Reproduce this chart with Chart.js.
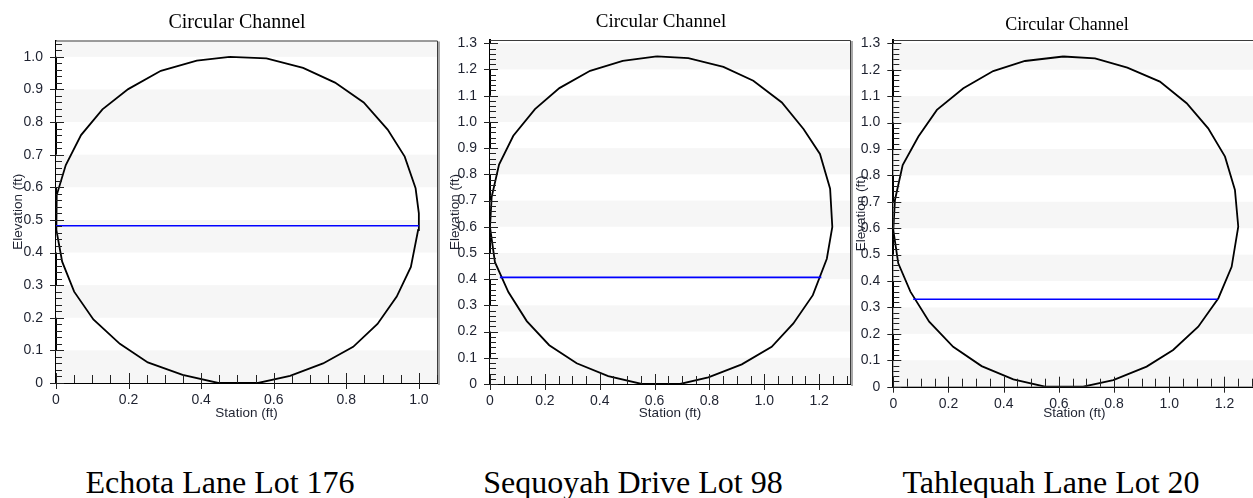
<!DOCTYPE html>
<html>
<head>
<meta charset="utf-8">
<script src="https://cdn.jsdelivr.net/npm/chart.js@4.4.1/dist/chart.umd.min.js"></script>
<style>
  body { margin: 0; background: #fff; overflow: hidden; width: 1253px; height: 498px; position: relative; }
  canvas { position: absolute; top: 0; }
  .caption { position: absolute; top: 464px; font-family: "Liberation Serif", serif; font-size: 32px; color: #000; transform: translateX(-50%); white-space: nowrap; }
</style>
</head>
<body>
<canvas id="echota" width="445" height="430" style="left:0px"></canvas>
<canvas id="sequoyah" width="408" height="430" style="left:445px"></canvas>
<canvas id="tahlequah" width="405" height="430" style="left:853px"></canvas>
<div class="caption" style="left:220px">Echota Lane Lot 176</div>
<div class="caption" style="left:633px">Sequoyah Drive Lot 98</div>
<div class="caption" style="left:1051px">Tahlequah Lane Lot 20</div>
<script>
// channel cross sections (station, elevation)
const echotaStation = [0.479, 0.388, 0.289, 0.199, 0.128, 0.069, 0.027, 0.002, 0.0, 0.002, 0.017, 0.050, 0.103, 0.176, 0.253, 0.349, 0.447, 0.557, 0.645, 0.736, 0.819, 0.886, 0.939, 0.978, 0.998, 1.0, 0.991, 0.961, 0.914, 0.848, 0.769, 0.681, 0.580, 0.479];
const echotaElev = [1.0, 0.988, 0.957, 0.901, 0.839, 0.760, 0.668, 0.576, 0.52, 0.469, 0.372, 0.280, 0.195, 0.120, 0.063, 0.025, 0.0, 0.0, 0.022, 0.060, 0.111, 0.181, 0.265, 0.356, 0.469, 0.52, 0.597, 0.694, 0.777, 0.860, 0.921, 0.966, 0.995, 1.0];
const echotaWaterStation = [0.0, 1.0];
const echotaWaterElev = [0.482, 0.482];

const sequoyahStation = [0.608, 0.484, 0.365, 0.253, 0.164, 0.085, 0.033, 0.006, 0.0, 0.018, 0.067, 0.134, 0.216, 0.316, 0.431, 0.553, 0.693, 0.796, 0.918, 1.027, 1.106, 1.177, 1.228, 1.248, 1.240, 1.203, 1.143, 1.064, 0.960, 0.851, 0.723, 0.608];
const sequoyahElev = [1.25, 1.233, 1.195, 1.129, 1.049, 0.947, 0.837, 0.713, 0.599, 0.465, 0.351, 0.240, 0.148, 0.079, 0.030, 0.0, 0.0, 0.025, 0.075, 0.142, 0.231, 0.339, 0.478, 0.599, 0.745, 0.878, 0.973, 1.074, 1.157, 1.210, 1.243, 1.25];
const sequoyahWaterStation = [0.036, 1.208];
const sequoyahWaterElev = [0.407, 0.407];

const tahlequahStation = [0.616, 0.477, 0.362, 0.254, 0.158, 0.091, 0.034, 0.006, 0.0, 0.018, 0.062, 0.130, 0.217, 0.320, 0.435, 0.550, 0.688, 0.797, 0.918, 1.014, 1.105, 1.178, 1.226, 1.250, 1.238, 1.202, 1.141, 1.063, 0.966, 0.848, 0.731, 0.616];
const tahlequahElev = [1.25, 1.233, 1.195, 1.130, 1.048, 0.947, 0.839, 0.707, 0.593, 0.467, 0.36, 0.246, 0.151, 0.078, 0.028, 0.0, 0.0, 0.025, 0.076, 0.139, 0.227, 0.335, 0.454, 0.606, 0.745, 0.871, 0.978, 1.073, 1.155, 1.208, 1.243, 1.25];
const tahlequahWaterStation = [0.072, 1.175];
const tahlequahWaterElev = [0.331, 0.331];

const chartTitle = 'Circular Channel';
const xTitle = 'Station (ft)';
const yTitle = 'Elevation (ft)';

const pairs = (xs, ys) => xs.map((x, i) => ({ x: x, y: ys[i] }));
const fmt = v => v === 0 ? '0' : Number(v).toFixed(1);
const sans = '"Liberation Sans", Arial, sans-serif';

// background bands, tick marks, frame and heading
const decor = {
    id: 'decor',
    beforeDatasetsDraw(chart) {
        const { ctx, chartArea: a, scales: { y } } = chart;
        ctx.save();
        ctx.fillStyle = '#f6f6f6';
        for (let i = 0; i * 0.2 < y.max; i++) {
            const v = i * 0.2;
            const y0 = y.getPixelForValue(v);
            const y1 = y.getPixelForValue(Math.min(v + 0.1, y.max));
            ctx.fillRect(a.left, y1, a.width, y0 - y1);
        }
        ctx.restore();
    },
    afterDraw(chart, args, opts) {
        const { ctx, chartArea: a, scales: { x, y } } = chart;
        ctx.save();
        // frame
        ctx.strokeStyle = '#a8a8a8';
        ctx.lineWidth = 2;
        ctx.beginPath();
        ctx.moveTo(a.right + 2, a.top + 1);
        ctx.lineTo(a.right + 2, a.bottom + 2);
        ctx.stroke();
        ctx.strokeStyle = '#3c3c3c';
        ctx.lineWidth = 1;
        ctx.beginPath();
        ctx.moveTo(a.left, a.top + 0.5);
        ctx.lineTo(a.right + 0.5, a.top + 0.5);
        ctx.lineTo(a.right + 0.5, a.bottom);
        ctx.stroke();
        // tick marks
        ctx.strokeStyle = '#222';
        ctx.beginPath();
        for (let i = 0; i * 0.02 <= y.max + 1e-9; i++) {
            const py = Math.round(y.getPixelForValue(i * 0.02)) + 0.5;
            const major = i % 5 === 0;
            ctx.moveTo(a.left - (major ? 6 : 0), py);
            ctx.lineTo(a.left + (major ? 8 : 6), py);
        }
        for (let i = 0; i * 0.05 <= x.max + 1e-9; i++) {
            const px = Math.round(x.getPixelForValue(i * 0.05)) + 0.5;
            const major = i % 4 === 0;
            ctx.moveTo(px, a.bottom - (major ? 10 : 8));
            ctx.lineTo(px, a.bottom + (major ? 6 : 0));
        }
        ctx.stroke();
        // heading
        ctx.fillStyle = '#000';
        ctx.font = opts.size + 'px "Liberation Serif", serif';
        ctx.textAlign = 'center';
        ctx.textBaseline = 'middle';
        ctx.fillText(chartTitle, opts.cx, opts.cy);
        ctx.restore();
    }
};

function makePanel(id, station, elev, waterStation, waterElev, p) {
    const ctx = document.getElementById(id).getContext('2d');
    return new Chart(ctx, {
        type: 'scatter',
        data: {
            datasets: [{
                data: pairs(waterStation, waterElev),
                showLine: true,
                borderColor: '#0000ff',
                borderWidth: 1.6,
                pointRadius: 0
            }, {
                data: pairs(station, elev),
                showLine: true,
                borderColor: '#000000',
                borderWidth: 1.8,
                pointRadius: 0,
                tension: 0
            }]
        },
        options: {
            responsive: false,
            animation: false,
            devicePixelRatio: 1,
            layout: { padding: { top: p.top, right: p.right, bottom: 0, left: 0 } },
            plugins: {
                legend: { display: false },
                tooltip: { enabled: false },
                decor: { size: p.titleSize, cx: p.titleX, cy: p.titleY }
            },
            scales: {
                x: {
                    type: 'linear',
                    min: 0,
                    max: p.max,
                    afterFit: s => { s.height = p.xHeight; },
                    grid: { display: false },
                    border: { display: true, color: '#000', width: 2 },
                    ticks: {
                        stepSize: 0.2,
                        includeBounds: false,
                        maxRotation: 0,
                        autoSkip: false,
                        padding: 1,
                        color: '#1e2230',
                        font: { family: sans, size: 14 },
                        callback: v => fmt(v)
                    },
                    title: {
                        display: true,
                        text: xTitle,
                        color: '#1e2230',
                        font: { family: sans, size: 13.5 },
                        padding: { top: 0, bottom: 9 }
                    }
                },
                y: {
                    type: 'linear',
                    min: 0,
                    max: p.max,
                    afterFit: s => { s.width = p.yWidth; },
                    grid: { display: false },
                    border: { display: true, color: '#000', width: 2 },
                    ticks: {
                        stepSize: 0.1,
                        includeBounds: false,
                        autoSkip: false,
                        padding: 5,
                        color: '#1e2230',
                        font: { family: sans, size: 14 },
                        callback: v => fmt(v)
                    },
                    title: {
                        display: true,
                        text: yTitle,
                        color: '#1e2230',
                        font: { family: sans, size: 13.5 },
                        padding: { top: p.yTitlePad, bottom: 0 }
                    }
                }
            }
        },
        plugins: [decor]
    });
}

makePanel('echota', echotaStation, echotaElev, echotaWaterStation, echotaWaterElev,
    { max: 1.05, top: 40.5, right: 8, yWidth: 56, xHeight: 47, yTitlePad: 10, titleSize: 20, titleX: 237, titleY: 23 });
makePanel('sequoyah', sequoyahStation, sequoyahElev, sequoyahWaterStation, sequoyahWaterElev,
    { max: 1.3125, top: 40, right: 3, yWidth: 45, xHeight: 46, yTitlePad: 2, titleSize: 19, titleX: 216, titleY: 22.5 });
makePanel('tahlequah', tahlequahStation, tahlequahElev, tahlequahWaterStation, tahlequahWaterElev,
    { max: 1.3125, top: 40, right: 2.5, yWidth: 40.3, xHeight: 43.3, yTitlePad: 0, titleSize: 18, titleX: 214, titleY: 25 });
</script>
</body>
</html>
